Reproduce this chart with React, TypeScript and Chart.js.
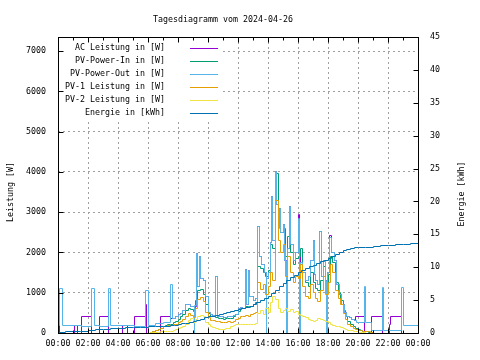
import { useEffect, useRef } from "react";
import { Chart, registerables } from "chart.js";

Chart.register(...registerables);

const TITLE = "Tagesdiagramm vom 2024-04-26";
const Y_LABEL = "Leistung [W]";
const Y2_LABEL = "Energie [kWh]";
const SERIES_NAMES = [
  "AC Leistung in [W]",
  "PV-Power-In in [W]",
  "PV-Power-Out in [W]",
  "PV-1 Leistung in [W]",
  "PV-2 Leistung in [W]",
  "Energie in [kWh]",
];
const COLORS = ["#9400d3", "#009e73", "#56b4e9", "#e69f00", "#f0e442", "#0072b2"];

// 10-minute grid used by the PV string series (hours)
const DAY_HOURS = [
  6.0, 6.17, 6.33, 6.5, 6.67, 6.83,
  7.0, 7.17, 7.33, 7.5, 7.67, 7.83,
  8.0, 8.17, 8.33, 8.5, 8.67, 8.83,
  9.0, 9.17, 9.33, 9.5, 9.67, 9.83,
  10.0, 10.17, 10.33, 10.5, 10.67, 10.83,
  11.0, 11.17, 11.33, 11.5, 11.67, 11.83,
  12.0, 12.17, 12.33, 12.5, 12.67, 12.83,
  13.0, 13.17, 13.33, 13.5, 13.67, 13.83,
  14.0, 14.17, 14.33, 14.5, 14.67, 14.83,
  15.0, 15.17, 15.33, 15.5, 15.67, 15.83,
  16.0, 16.17, 16.33, 16.5, 16.67, 16.83,
  17.0, 17.17, 17.33, 17.5, 17.67, 17.83,
  18.0, 18.17, 18.33, 18.5, 18.67, 18.83,
  19.0, 19.17, 19.33, 19.5, 19.67, 19.83,
  20.0, 20.17, 20.33, 20.5, 20.67, 20.83,
  21.0,
];

const PV_IN_W = [
  0, 10, 30, 60, 90, 120,
  150, 180, 200, 210, 250, 290,
  330, 400, 460, 560, 620, 580,
  540, 800, 1050, 1080, 950, 700,
  480, 420, 400, 380, 370, 350,
  340, 350, 360, 370, 400, 450,
  540, 600, 600, 650, 640, 660,
  700, 750, 1650, 1600, 1500, 1400,
  1550, 2200, 2100, 3950, 2800, 2500,
  2600, 1900, 2400, 2000, 1700, 1850,
  1900, 2100, 1500, 1250, 1150, 1500,
  1250, 1100, 1050, 1300, 1650, 1200,
  1450, 1900, 1750, 1250, 1000, 800,
  560, 400, 280, 200, 150, 110,
  80, 60, 45, 30, 20, 10,
  0,
];

const PV1_W = [
  0, 10, 30, 60, 90, 120,
  150, 170, 180, 175, 200, 220,
  260, 290, 330, 420, 480, 430,
  380, 600, 820, 870, 780, 520,
  380, 320, 300, 290, 280, 270,
  260, 270, 280, 270, 290, 330,
  360, 410, 400, 430, 420, 450,
  480, 500, 1250, 1080, 1200, 950,
  1150, 1500, 1300, 3300, 2300, 2000,
  2200, 1400, 1900, 1500, 1250, 1400,
  1350, 1700, 1150, 900, 850, 1200,
  1000, 850, 780, 1050, 1400, 950,
  1250, 1700, 1500, 1050, 850, 700,
  480, 330, 220, 160, 120, 90,
  70, 55, 45, 35, 25, 15,
  0,
];

const PV2_W = [
  0, 5, 10, 15, 20, 25,
  30, 35, 40, 45, 60, 80,
  100, 130, 165, 220, 300, 350,
  260, 330, 400, 430, 420, 260,
  200, 160, 130, 110, 90, 80,
  95, 100, 110, 150, 190, 200,
  200, 210, 200, 210, 220, 200,
  210, 240, 480, 560, 450, 600,
  520, 750, 900, 820, 600, 520,
  560, 620, 540, 580, 500, 530,
  460, 440, 400, 380, 340, 300,
  280, 320, 350, 340, 310, 290,
  260, 220, 190, 170, 150, 130,
  110, 90, 70, 55, 40, 28,
  18, 10, 5, 0, 0, 0,
  0,
];

const OUT_HOURS = [
  0.0, 0.13, 0.28, 1.58, 2.24, 2.4, 2.75, 3.36, 3.52, 5.13, 5.85, 6.02, 6.47,
  7.0, 7.51, 7.65, 7.83, 8.0, 8.17, 8.33, 8.5, 8.67, 8.83, 9.0, 9.07, 9.09,
  9.25, 9.33, 9.4, 9.47, 9.67, 9.83, 10.0, 10.17, 10.33, 10.53, 10.65, 10.83,
  11.0, 11.17, 11.33, 11.5, 11.67, 11.83, 12.0, 12.17, 12.33, 12.47, 12.58,
  12.67, 12.78, 13.0, 13.17, 13.3, 13.4, 13.58, 13.75, 13.9, 13.92, 14.0,
  14.17, 14.25, 14.33, 14.47, 14.55, 14.67, 14.75, 14.83, 15.0, 15.1, 15.25,
  15.27, 15.4, 15.5, 15.67, 15.83, 16.0, 16.1, 16.13, 16.15, 16.33, 16.5,
  16.67, 16.83, 17.0, 17.08, 17.17, 17.33, 17.45, 17.55, 17.67, 17.83, 17.93,
  17.95, 18.1, 18.22, 18.42, 18.58, 18.75, 18.92, 19.08, 19.25, 19.42, 19.58,
  19.75, 19.92, 20.4, 20.53, 20.93, 21.6, 21.73, 22.87, 23.0, 24.0,
];
const OUT_W = [
  190, 1100, 195, 150, 1100, 195, 150, 1100, 190, 150, 1050, 180, 230,
  250, 1200, 350, 420, 450, 480, 550, 700, 720, 650, 660, 0, 680,
  1970, 1150, 1900, 1350, 1300, 900, 500, 450, 430, 1400, 420, 400,
  380, 390, 400, 420, 430, 450, 620, 640, 600, 1570, 700,
  1550, 900, 800, 850, 2650, 1900, 1700, 1500, 0, 1350, 1500,
  2250, 3400, 2300, 4000, 3200, 2600, 3100, 2500, 2700, 1800, 0,
  2100, 3150, 2200, 1800, 2000, 2850, 1900, 0, 1750, 1500, 1300,
  1400, 1800, 2300, 1450, 1300, 1200, 2530, 1400, 1800, 1300, 0,
  1500, 2370, 2000, 1800, 1200, 950, 700, 500, 420, 380, 340,
  300, 270, 1165, 255, 50, 1120, 50, 1120, 190, 190,
];

// AC output: square-wave steps at night, runs along PV-Power-Out by day
const AC_HOURS = [
  0.0, 0.12, 1.1, 1.27, 1.58, 2.22, 2.26, 2.75, 3.34, 3.38, 4.3, 4.6, 5.13,
  5.83, 5.88, 6.8, 7.49, 7.53, 7.65, 7.83, 8.0, 8.17, 8.33, 8.5, 8.67, 8.83,
  9.0, 9.25, 9.33, 9.4, 9.47, 9.67, 9.83, 10.0, 10.17, 10.33, 10.53, 10.65,
  10.83, 11.0, 11.17, 11.33, 11.5, 11.67, 11.83, 12.0, 12.17, 12.33, 12.47,
  12.58, 12.67, 12.78, 13.0, 13.17, 13.3, 13.4, 13.58, 13.75, 13.92, 14.0,
  14.17, 14.25, 14.33, 14.47, 14.55, 14.67, 14.75, 14.83, 15.0, 15.1, 15.27,
  15.4, 15.5, 15.67, 15.83, 16.0, 16.1, 16.15, 16.33, 16.5, 16.67, 16.83,
  17.0, 17.08, 17.17, 17.33, 17.45, 17.55, 17.67, 17.83, 17.95, 18.1, 18.22,
  18.42, 18.58, 18.75, 18.92, 19.08, 19.25, 19.42, 19.58, 19.75, 19.82, 20.4,
  20.93, 21.62, 21.66, 22.09, 22.18, 22.87, 24.0,
];
const AC_W = [
  400, 0, 190, 0, 400, 700, 0, 400, 700, 0, 190, 0, 400,
  720, 0, 400, 750, 350, 350, 420, 450, 480, 550, 700, 720, 650,
  660, 1970, 1150, 1900, 1350, 1300, 900, 500, 450, 430, 1400, 420,
  400, 380, 390, 400, 420, 430, 450, 620, 640, 600, 1570,
  700, 1550, 900, 800, 850, 2650, 1900, 1700, 1500, 1350, 1500,
  2250, 3400, 2300, 4000, 3200, 2650, 3100, 2500, 2700, 1800, 2100,
  3150, 2200, 1800, 2000, 2950, 1900, 1750, 1500, 1300, 1400, 1800,
  2300, 1450, 1300, 1200, 2530, 1400, 1800, 1300, 1500, 2420, 2000,
  1800, 1200, 950, 700, 500, 420, 380, 340, 300, 400, 0,
  400, 750, 0, 210, 400, 0, 0,
];

const ENERGY_HOURS = [
  0.0, 0.5, 1.0, 1.5, 2.0, 2.5, 3.0, 3.5, 4.0, 4.5, 5.0, 5.5, 6.0, 6.5, 7.0,
  7.5, 7.75, 8.0, 8.25, 8.5, 8.75, 9.0, 9.25, 9.5, 9.75, 10.0, 10.25, 10.5,
  10.75, 11.0, 11.25, 11.5, 11.75, 12.0, 12.25, 12.5, 12.75, 13.0, 13.25, 13.5,
  13.75, 14.0, 14.25, 14.5, 14.75, 15.0, 15.25, 15.5, 15.75, 16.0, 16.25, 16.5,
  16.75, 17.0, 17.25, 17.5, 17.75, 18.0, 18.25, 18.5, 18.75, 19.0, 19.25, 19.5,
  19.75, 20.0, 20.5, 21.0, 21.5, 22.0, 22.5, 23.0, 23.5, 24.0,
];
const ENERGY_KWH = [
  0.15, 0.2, 0.25, 0.3, 0.4, 0.5, 0.55, 0.65, 0.7, 0.8, 0.85, 0.9, 0.95, 1.0, 1.05,
  1.1, 1.2, 1.3, 1.4, 1.5, 1.6, 1.75, 1.9, 2.1, 2.3, 2.45, 2.55, 2.7,
  2.85, 3.0, 3.1, 3.25, 3.4, 3.6, 3.75, 3.9, 4.1, 4.4, 4.6, 4.9,
  5.2, 5.5, 6.0, 6.5, 7.0, 7.5, 7.95, 8.4, 8.8, 9.2, 9.5, 9.8,
  10.05, 10.25, 10.5, 10.8, 11.05, 11.3, 11.65, 12.0, 12.3, 12.6, 12.75, 12.85,
  12.95, 13.0, 13.05, 13.15, 13.25, 13.3, 13.4, 13.45, 13.55, 13.6,
];

const X_TICK_HOURS = [0, 2, 4, 6, 8, 10, 12, 14, 16, 18, 20, 22, 24];
const Y_TICKS_W = [0, 1000, 2000, 3000, 4000, 5000, 6000, 7000];
const Y2_TICKS_KWH = [0, 5, 10, 15, 20, 25, 30, 35, 40, 45];

const FONT_FAMILY = "'DejaVu Sans Mono', 'Liberation Mono', monospace";
const FONT_SIZE = 8.3;

function pts(hours: number[], vals: number[]) {
  return hours.map((h, i) => ({ x: h, y: vals[i] }));
}

function hhmm(v: number) {
  const h = Math.round(v) % 24;
  return (h < 10 ? "0" : "") + h + ":00";
}

// snap the line vertices (placed by the scales) to pixel centres, so the
// 1px step lines are crisp like a bitmap plot
const snapPlugin = {
  id: "snap",
  beforeDatasetsDraw(chart: any) {
    chart.getSortedVisibleDatasetMetas().forEach((meta: any) => {
      meta.data.forEach((p: any) => {
        p.x = Math.floor(p.x) + 0.5;
        p.y = Math.floor(p.y) + 0.5;
      });
      if (meta.dataset) meta.dataset._path = undefined;
    });
  },
};

const decorPlugin = {
  id: "decor",
  afterDatasetsDraw(chart: any) {
    const { ctx, chartArea: a, scales } = chart;
    const L = Math.round(a.left) + 0.5;
    const R = Math.round(a.right) + 0.5;
    const T = Math.round(a.top) + 0.5;
    const B = Math.round(a.bottom) + 0.5;
    ctx.save();

    // opaque key background
    ctx.fillStyle = "#ffffff";
    ctx.fillRect(L + 1, T + 1, 222 - L, 121 - T);

    // frame
    ctx.strokeStyle = "#000";
    ctx.lineWidth = 1;
    ctx.strokeRect(L, T, R - L, B - T);

    // inward ticks
    ctx.beginPath();
    for (let h = 0; h <= 24; h++) {
      const x = Math.round(scales.x.getPixelForValue(h)) + 0.5;
      const len = h % 2 === 0 ? 5 : 3;
      ctx.moveTo(x, B);
      ctx.lineTo(x, B - len);
      ctx.moveTo(x, T);
      ctx.lineTo(x, T + len);
    }
    for (const v of Y_TICKS_W) {
      const y = Math.round(scales.y.getPixelForValue(v)) + 0.5;
      ctx.moveTo(L, y);
      ctx.lineTo(L + 5, y);
    }
    for (const v of Y2_TICKS_KWH) {
      const y = Math.round(scales.y2.getPixelForValue(v)) + 0.5;
      ctx.moveTo(R, y);
      ctx.lineTo(R - 5, y);
    }
    ctx.stroke();

    ctx.fillStyle = "#000";
    ctx.font = `${FONT_SIZE}px ${FONT_FAMILY}`;
    ctx.textBaseline = "middle";

    // title
    ctx.textAlign = "center";
    ctx.fillText(TITLE, 223, 20);

    // axis titles
    ctx.save();
    ctx.translate(11, 192);
    ctx.rotate(-Math.PI / 2);
    ctx.fillText(Y_LABEL, 0, 0);
    ctx.restore();
    ctx.save();
    ctx.translate(462, 194);
    ctx.rotate(-Math.PI / 2);
    ctx.fillText(Y2_LABEL, 0, 0);
    ctx.restore();

    // key
    SERIES_NAMES.forEach((name, i) => {
      const y = 48 + i * 13;
      ctx.textAlign = "right";
      ctx.fillStyle = "#000";
      ctx.fillText(name, 165, y);
      ctx.strokeStyle = COLORS[i];
      ctx.beginPath();
      ctx.moveTo(190, y + 0.5);
      ctx.lineTo(218, y + 0.5);
      ctx.stroke();
    });

    ctx.restore();
  },
};

export default function App() {
  const ref = useRef<HTMLCanvasElement>(null);

  useEffect(() => {
    document.body.style.margin = "0";
    const font = { family: FONT_FAMILY, size: FONT_SIZE };
    const common = {
      stepped: true,
      pointRadius: 0,
      borderWidth: 1,
      fill: false,
    };
    const chart = new Chart(ref.current as HTMLCanvasElement, {
      type: "line",
      data: {
        datasets: [
          { ...common, label: SERIES_NAMES[0], data: pts(AC_HOURS, AC_W), borderColor: COLORS[0], yAxisID: "y", order: 6 },
          { ...common, label: SERIES_NAMES[1], data: pts(DAY_HOURS, PV_IN_W), borderColor: COLORS[1], yAxisID: "y", order: 5 },
          { ...common, label: SERIES_NAMES[2], data: pts(OUT_HOURS, OUT_W), borderColor: COLORS[2], yAxisID: "y", order: 4 },
          { ...common, label: SERIES_NAMES[3], data: pts(DAY_HOURS, PV1_W), borderColor: COLORS[3], yAxisID: "y", order: 3 },
          { ...common, label: SERIES_NAMES[4], data: pts(DAY_HOURS, PV2_W), borderColor: COLORS[4], yAxisID: "y", order: 2 },
          { ...common, label: SERIES_NAMES[5], data: pts(ENERGY_HOURS, ENERGY_KWH), borderColor: COLORS[5], yAxisID: "y2", order: 1 },
        ] as any,
      },
      options: {
        animation: false,
        responsive: false,
        devicePixelRatio: 1,
        layout: { padding: { top: 37, left: 0, right: 0, bottom: 0 } },
        plugins: {
          legend: { display: false },
          tooltip: { enabled: false },
          title: { display: false },
        },
        scales: {
          x: {
            type: "linear",
            min: 0,
            max: 24,
            afterBuildTicks: (s: any) => {
              s.ticks = X_TICK_HOURS.map((v) => ({ value: v }));
            },
            ticks: {
              autoSkip: false,
              maxRotation: 0,
              padding: 6,
              color: "#000",
              font,
              callback: (v: any) => hhmm(Number(v)),
            },
            grid: { color: "#a0a0a0", lineWidth: 1, drawTicks: false },
            border: { display: false, dash: [2, 3] },
            afterFit: (s: any) => {
              s.height = 27;
            },
          },
          y: {
            type: "linear",
            position: "left",
            min: 0,
            max: 7350,
            afterBuildTicks: (s: any) => {
              s.ticks = Y_TICKS_W.map((v) => ({ value: v }));
            },
            ticks: { padding: 12, color: "#000", font, callback: (v: any) => String(v) },
            grid: { color: "#a0a0a0", lineWidth: 1, drawTicks: false },
            border: { display: false, dash: [2, 3] },
            afterFit: (s: any) => {
              s.width = 58;
            },
          },
          y2: {
            type: "linear",
            position: "right",
            min: 0,
            max: 45,
            afterBuildTicks: (s: any) => {
              s.ticks = Y2_TICKS_KWH.map((v) => ({ value: v }));
            },
            ticks: { padding: 12, color: "#000", font, callback: (v: any) => String(v) },
            grid: { display: false, drawTicks: false },
            border: { display: false },
            afterFit: (s: any) => {
              s.width = 62;
            },
          },
        },
      } as any,
      plugins: [snapPlugin, decorPlugin],
    });
    return () => chart.destroy();
  }, []);

  return (
    <div style={{ position: "absolute", left: 0, top: 0, width: 480, height: 360 }}>
      <canvas ref={ref} width={480} height={360} style={{ display: "block" }} />
    </div>
  );
}
